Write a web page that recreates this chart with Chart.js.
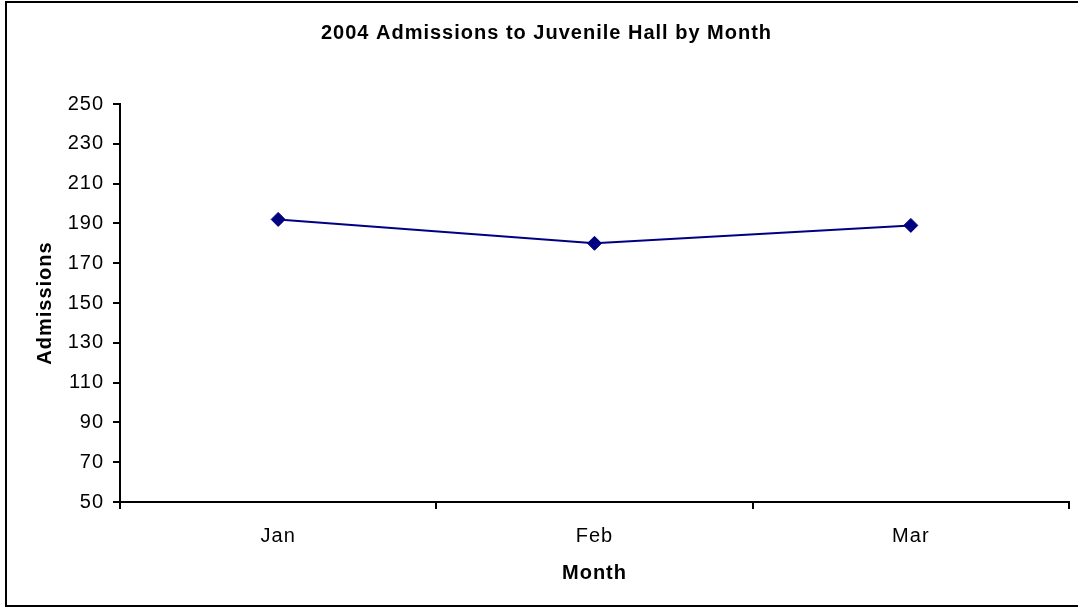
<!DOCTYPE html>
<html>
<head>
<meta charset="utf-8">
<script src="https://cdn.jsdelivr.net/npm/chart.js@4/dist/chart.umd.min.js"></script>
<style>
  html, body { margin: 0; padding: 0; background: #fff; overflow: hidden; }
  #wrap { position: relative; width: 1078px; height: 608px; }
  #frame { position: absolute; left: 5px; top: 1px; width: 1080px; height: 606px;
           box-sizing: border-box; border: 2px solid #000; }
  #chart { position: absolute; left: 0; top: 0; }
</style>
</head>
<body>
<div id="wrap">
  <div id="frame"></div>
  <canvas id="chart" width="1078" height="608"></canvas>
</div>
<script>
/* 2004 admissions to juvenile hall, by month */
const MONTHS = ['Jan', 'Feb', 'Mar'];
const ADMISSIONS = [192, 180, 189];
const Y_MIN = 50;
const Y_MAX = 250;
const Y_STEP = 20;

const FONT = '"Liberation Sans", Arial, sans-serif';
const NAVY = '#000080';

// the original text is set a little loose, so widen the glyph spacing a bit
const looseText = {
  id: 'looseText',
  beforeDraw(chart) {
    if ('letterSpacing' in chart.ctx) chart.ctx.letterSpacing = '1px';
  },
};

new Chart(document.getElementById('chart').getContext('2d'), {
  type: 'line',
  data: {
    labels: MONTHS,
    datasets: [{
      label: 'Admissions',
      data: ADMISSIONS,
      borderColor: NAVY,
      borderWidth: 2,
      backgroundColor: NAVY,
      pointStyle: 'rectRot',
      pointRadius: 7,
      pointBorderWidth: 1,
      pointBackgroundColor: NAVY,
      pointBorderColor: NAVY,
      tension: 0,
      fill: false,
    }],
  },
  options: {
    responsive: false,
    animation: false,
    layout: {padding: {left: 24, right: 9, top: 0, bottom: 0}},
    plugins: {
      legend: {display: false},
      tooltip: {enabled: false},
      title: {
        display: true,
        text: '2004 Admissions to Juvenile Hall by Month',
        color: '#000',
        font: {family: FONT, size: 20, weight: 'bold'},
        padding: {top: 21, bottom: 59},
      },
    },
    scales: {
      x: {
        type: 'category',
        offset: true,
        grid: {offset: true, drawOnChartArea: false, drawTicks: true, tickLength: 7,
               color: '#000', lineWidth: 2},
        border: {display: true, color: '#000', width: 2},
        ticks: {color: '#000', padding: 15.5, font: {family: FONT, size: 20}},
        title: {display: true, text: 'Month', color: '#000',
                font: {family: FONT, size: 20, weight: 'bold'}, padding: {top: 0, bottom: 23}},
        afterFit: (scale) => { scale.height = 106; },
      },
      y: {
        min: Y_MIN,
        max: Y_MAX,
        grid: {drawOnChartArea: false, drawTicks: true, tickLength: 7, color: '#000', lineWidth: 2},
        border: {display: true, color: '#000', width: 2},
        ticks: {stepSize: Y_STEP, color: '#000', padding: 9, font: {family: FONT, size: 20}},
        title: {display: true, text: 'Admissions', color: '#000',
                font: {family: FONT, size: 20, weight: 'bold'}, padding: {top: 9, bottom: 0}},
        afterFit: (scale) => { scale.width = 96; },
      },
    },
  },
  plugins: [looseText],
});
</script>
</body>
</html>
